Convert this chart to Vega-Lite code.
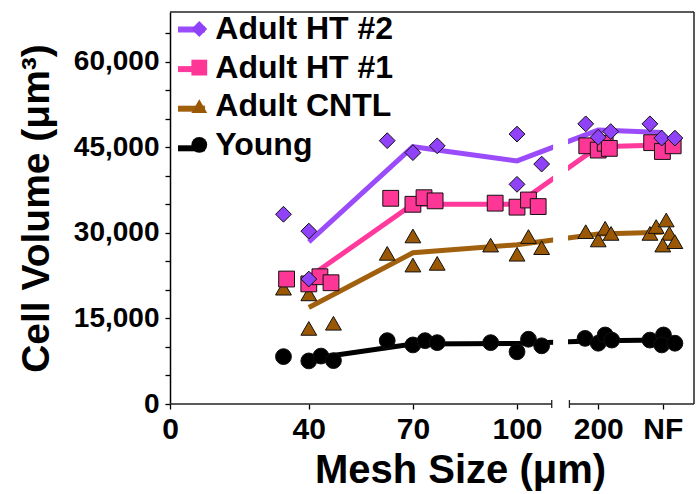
{
  "$schema": "https://vega.github.io/schema/vega-lite/v6.json",
  "width": 524,
  "height": 392,
  "autosize": {"type": "none"},
  "padding": {"left": 170, "top": 12, "right": 5, "bottom": 90},
  "background": "white",
  "config": {
    "view": {"stroke": null},
    "font": "Liberation Sans",
    "axis": {
      "labelFont": "Liberation Sans",
      "labelFontWeight": "bold",
      "labelColor": "black",
      "titleFont": "Liberation Sans",
      "titleFontWeight": "bold",
      "titleColor": "black",
      "tickColor": "black",
      "tickWidth": 1.3,
      "tickSize": 5,
      "domainColor": "black",
      "domainWidth": 1.5,
      "grid": false
    },
    "legend": {
      "labelFont": "Liberation Sans",
      "labelFontWeight": "bold",
      "labelColor": "black",
      "labelLimit": 400
    }
  },
  "datasets": {
    "means": [
      {"group": "Young", "mesh": 40, "volume": 7900},
      {"group": "Young", "mesh": 70, "volume": 10500},
      {"group": "Young", "mesh": 100, "volume": 10600},
      {"group": "Young", "mesh": 123.4, "volume": 11100},
      {"group": "Young", "mesh": 142, "volume": 11200},
      {"group": "Adult CNTL", "mesh": 40, "volume": 16900},
      {"group": "Adult CNTL", "mesh": 70, "volume": 26500},
      {"group": "Adult CNTL", "mesh": 100, "volume": 27900},
      {"group": "Adult CNTL", "mesh": 123.4, "volume": 29800},
      {"group": "Adult CNTL", "mesh": 142, "volume": 30100},
      {"group": "Adult HT #1", "mesh": 40, "volume": 22200},
      {"group": "Adult HT #1", "mesh": 70, "volume": 35000},
      {"group": "Adult HT #1", "mesh": 100, "volume": 35000},
      {"group": "Adult HT #1", "mesh": 123.4, "volume": 45100},
      {"group": "Adult HT #1", "mesh": 142, "volume": 45400},
      {"group": "Adult HT #2", "mesh": 40, "volume": 28400},
      {"group": "Adult HT #2", "mesh": 70, "volume": 45100},
      {"group": "Adult HT #2", "mesh": 100, "volume": 42600},
      {"group": "Adult HT #2", "mesh": 123.4, "volume": 48000},
      {"group": "Adult HT #2", "mesh": 142, "volume": 47600}
    ],
    "points": [
      {"series": "Young", "mesh": 32.7, "volume": 8300},
      {"series": "Young", "mesh": 40, "volume": 7550},
      {"series": "Young", "mesh": 43.5, "volume": 8400},
      {"series": "Young", "mesh": 47.1, "volume": 7600},
      {"series": "Young", "mesh": 62.6, "volume": 11100},
      {"series": "Young", "mesh": 70, "volume": 10350},
      {"series": "Young", "mesh": 73.5, "volume": 11100},
      {"series": "Young", "mesh": 77, "volume": 10750},
      {"series": "Young", "mesh": 92.4, "volume": 10750},
      {"series": "Young", "mesh": 100, "volume": 9150},
      {"series": "Young", "mesh": 103.3, "volume": 11350},
      {"series": "Young", "mesh": 107.1, "volume": 10200},
      {"series": "Young", "mesh": 119.6, "volume": 11500},
      {"series": "Young", "mesh": 123.4, "volume": 10650},
      {"series": "Young", "mesh": 125.4, "volume": 12100},
      {"series": "Young", "mesh": 127.3, "volume": 11200},
      {"series": "Young", "mesh": 138.3, "volume": 11200},
      {"series": "Young", "mesh": 142.2, "volume": 12100},
      {"series": "Young", "mesh": 141.7, "volume": 10350},
      {"series": "Young", "mesh": 145.5, "volume": 10650},
      {"series": "Adult CNTL", "mesh": 32.7, "volume": 20300},
      {"series": "Adult CNTL", "mesh": 40, "volume": 19300},
      {"series": "Adult CNTL", "mesh": 40, "volume": 13250},
      {"series": "Adult CNTL", "mesh": 47.1, "volume": 14150},
      {"series": "Adult CNTL", "mesh": 62.6, "volume": 26400},
      {"series": "Adult CNTL", "mesh": 70, "volume": 29450},
      {"series": "Adult CNTL", "mesh": 70, "volume": 24350},
      {"series": "Adult CNTL", "mesh": 77, "volume": 24650},
      {"series": "Adult CNTL", "mesh": 92.4, "volume": 27850},
      {"series": "Adult CNTL", "mesh": 100, "volume": 26250},
      {"series": "Adult CNTL", "mesh": 103.3, "volume": 29350},
      {"series": "Adult CNTL", "mesh": 107.1, "volume": 27400},
      {"series": "Adult CNTL", "mesh": 119.8, "volume": 30200},
      {"series": "Adult CNTL", "mesh": 123.4, "volume": 28750},
      {"series": "Adult CNTL", "mesh": 125.4, "volume": 30800},
      {"series": "Adult CNTL", "mesh": 127.1, "volume": 29900},
      {"series": "Adult CNTL", "mesh": 138.3, "volume": 29900},
      {"series": "Adult CNTL", "mesh": 140.1, "volume": 31100},
      {"series": "Adult CNTL", "mesh": 143, "volume": 32250},
      {"series": "Adult CNTL", "mesh": 143.9, "volume": 29900},
      {"series": "Adult CNTL", "mesh": 142, "volume": 27850},
      {"series": "Adult CNTL", "mesh": 145.5, "volume": 28450},
      {"series": "Adult HT #1", "mesh": 33.6, "volume": 21900},
      {"series": "Adult HT #1", "mesh": 40, "volume": 21050},
      {"series": "Adult HT #1", "mesh": 43.2, "volume": 22300},
      {"series": "Adult HT #1", "mesh": 46.4, "volume": 21250},
      {"series": "Adult HT #1", "mesh": 63.6, "volume": 36050},
      {"series": "Adult HT #1", "mesh": 70, "volume": 35000},
      {"series": "Adult HT #1", "mesh": 73.2, "volume": 36150},
      {"series": "Adult HT #1", "mesh": 76.4, "volume": 35600},
      {"series": "Adult HT #1", "mesh": 93.7, "volume": 35200},
      {"series": "Adult HT #1", "mesh": 100, "volume": 34500},
      {"series": "Adult HT #1", "mesh": 103.3, "volume": 35750},
      {"series": "Adult HT #1", "mesh": 106.1, "volume": 34600},
      {"series": "Adult HT #1", "mesh": 120.1, "volume": 45250},
      {"series": "Adult HT #1", "mesh": 123.4, "volume": 44500},
      {"series": "Adult HT #1", "mesh": 125.4, "volume": 45700},
      {"series": "Adult HT #1", "mesh": 126.6, "volume": 44800},
      {"series": "Adult HT #1", "mesh": 138.8, "volume": 45800},
      {"series": "Adult HT #1", "mesh": 141.9, "volume": 44250},
      {"series": "Adult HT #1", "mesh": 145, "volume": 45250},
      {"series": "Adult HT #2", "mesh": 32.7, "volume": 33250},
      {"series": "Adult HT #2", "mesh": 40, "volume": 30300},
      {"series": "Adult HT #2", "mesh": 40, "volume": 21900},
      {"series": "Adult HT #2", "mesh": 62.6, "volume": 46150},
      {"series": "Adult HT #2", "mesh": 70, "volume": 44050},
      {"series": "Adult HT #2", "mesh": 77, "volume": 45250},
      {"series": "Adult HT #2", "mesh": 100, "volume": 47300},
      {"series": "Adult HT #2", "mesh": 100, "volume": 38500},
      {"series": "Adult HT #2", "mesh": 107.1, "volume": 42050},
      {"series": "Adult HT #2", "mesh": 119.8, "volume": 49100},
      {"series": "Adult HT #2", "mesh": 123.4, "volume": 46750},
      {"series": "Adult HT #2", "mesh": 127, "volume": 47750},
      {"series": "Adult HT #2", "mesh": 138.3, "volume": 49100},
      {"series": "Adult HT #2", "mesh": 141.7, "volume": 46600},
      {"series": "Adult HT #2", "mesh": 145.5, "volume": 46600}
    ]
  },
  "layer": [
    {
      "data": {"name": "means"},
      "mark": {"type": "line", "strokeWidth": 5, "clip": true},
      "encoding": {
        "x": {
          "field": "mesh", "type": "quantitative",
          "scale": {"domain": [0, 151], "nice": false},
          "axis": {
            "values": [0, 40, 70, 100, 123.4, 142],
            "labelExpr": "datum.value === 123.4 ? '200' : datum.value === 142 ? 'NF' : format(datum.value, 'd')",
            "domain": false, "labelFontSize": 30, "labelPadding": 5, "labelFlush": false,
            "title": "Mesh Size (μm)", "titleFontSize": 40, "titlePadding": 6, "titleX": 290
          }
        },
        "y": {
          "field": "volume", "type": "quantitative",
          "scale": {"domain": [0, 68700], "nice": false},
          "axis": {
            "values": [0, 5000, 10000, 15000, 20000, 25000, 30000, 35000, 40000, 45000, 50000, 55000, 60000, 65000],
            "labelExpr": "datum.value % 15000 === 0 ? format(datum.value, ',') : ''",
            "labelFontSize": 28, "labelPadding": 6, "labelFlush": false, "labelOverlap": false,
            "title": "Cell Volume (μm³)", "titleFontSize": 39, "titlePadding": 17
          }
        },
        "stroke": {
          "field": "group", "type": "nominal",
          "sort": ["Adult HT #2", "Adult HT #1", "Adult CNTL", "Young"],
          "scale": {"range": ["#9a4cfb", "#ff3a9c", "#a0600e", "#000000"]},
          "legend": {
            "title": null, "orient": "none", "legendX": 5, "legendY": 1, "padding": 0,
            "symbolType": "stroke", "symbolSize": 729, "symbolStrokeWidth": 6,
            "labelFontSize": 32, "labelExpr": "''", "rowPadding": 6.6, "labelOffset": 10
          }
        }
      }
    },
    {
      "data": {"values": [{}]},
      "mark": {"type": "rect", "color": "white"},
      "encoding": {
        "x": {
          "datum": 110.4, "type": "quantitative",
          "scale": {"domain": [0, 151], "nice": false},
          "axis": {
            "values": [0, 40, 70, 100, 123.4, 142],
            "labelExpr": "datum.value === 123.4 ? '200' : datum.value === 142 ? 'NF' : format(datum.value, 'd')",
            "domain": false, "labelFontSize": 30, "labelPadding": 5, "labelFlush": false,
            "title": "Mesh Size (μm)", "titleFontSize": 40, "titlePadding": 6, "titleX": 290
          }
        },
        "x2": {"datum": 114.7},
        "y": {
          "datum": 300, "type": "quantitative",
          "scale": {"domain": [0, 68700], "nice": false},
          "axis": {
            "values": [0, 5000, 10000, 15000, 20000, 25000, 30000, 35000, 40000, 45000, 50000, 55000, 60000, 65000],
            "labelExpr": "datum.value % 15000 === 0 ? format(datum.value, ',') : ''",
            "labelFontSize": 28, "labelPadding": 6, "labelFlush": false, "labelOverlap": false,
            "title": "Cell Volume (μm³)", "titleFontSize": 39, "titlePadding": 17
          }
        },
        "y2": {"datum": 68400}
      }
    },
    {
      "data": {"name": "points"},
      "mark": {"type": "point", "filled": true, "opacity": 1, "stroke": "#111111", "strokeWidth": 1, "size": 250},
      "encoding": {
        "x": {
          "field": "mesh", "type": "quantitative",
          "scale": {"domain": [0, 151], "nice": false},
          "axis": {
            "values": [0, 40, 70, 100, 123.4, 142],
            "labelExpr": "datum.value === 123.4 ? '200' : datum.value === 142 ? 'NF' : format(datum.value, 'd')",
            "domain": false, "labelFontSize": 30, "labelPadding": 5, "labelFlush": false,
            "title": "Mesh Size (μm)", "titleFontSize": 40, "titlePadding": 6, "titleX": 290
          }
        },
        "y": {
          "field": "volume", "type": "quantitative",
          "scale": {"domain": [0, 68700], "nice": false},
          "axis": {
            "values": [0, 5000, 10000, 15000, 20000, 25000, 30000, 35000, 40000, 45000, 50000, 55000, 60000, 65000],
            "labelExpr": "datum.value % 15000 === 0 ? format(datum.value, ',') : ''",
            "labelFontSize": 28, "labelPadding": 6, "labelFlush": false, "labelOverlap": false,
            "title": "Cell Volume (μm³)", "titleFontSize": 39, "titlePadding": 17
          }
        },
        "fill": {
          "field": "series", "type": "nominal",
          "scale": {
            "domain": ["Adult HT #2", "Adult HT #1", "Adult CNTL", "Young"],
            "range": ["#8f42f7", "#fe3797", "#9a5804", "#000000"]
          },
          "legend": {
            "title": null, "orient": "none", "legendX": 13.3, "legendY": 1, "padding": 0,
            "symbolSize": 250, "symbolStrokeColor": "#111111", "symbolStrokeWidth": 1,
            "labelFontSize": 32, "rowPadding": 6.6, "labelOffset": 0
          }
        },
        "shape": {
          "field": "series", "type": "nominal",
          "scale": {
            "domain": ["Adult HT #2", "Adult HT #1", "Adult CNTL", "Young"],
            "range": ["diamond", "square", "triangle-up", "circle"]
          },
          "legend": {
            "title": null, "orient": "none", "legendX": 13.3, "legendY": 1, "padding": 0,
            "symbolSize": 250, "symbolStrokeColor": "#111111", "symbolStrokeWidth": 1,
            "labelFontSize": 32, "rowPadding": 6.6, "labelOffset": 0
          }
        }
      }
    },
    {
      "data": {"values": [{}]},
      "mark": {"type": "rule", "color": "#222222", "strokeWidth": 1.5},
      "encoding": {
        "y": {
          "datum": 68700, "type": "quantitative",
          "scale": {"domain": [0, 68700], "nice": false},
          "axis": {
            "values": [0, 5000, 10000, 15000, 20000, 25000, 30000, 35000, 40000, 45000, 50000, 55000, 60000, 65000],
            "labelExpr": "datum.value % 15000 === 0 ? format(datum.value, ',') : ''",
            "labelFontSize": 28, "labelPadding": 6, "labelFlush": false, "labelOverlap": false,
            "title": "Cell Volume (μm³)", "titleFontSize": 39, "titlePadding": 17
          }
        }
      }
    },
    {
      "data": {"values": [{}]},
      "mark": {"type": "rule", "color": "#222222", "strokeWidth": 1.5},
      "encoding": {
        "x": {
          "datum": 151, "type": "quantitative",
          "scale": {"domain": [0, 151], "nice": false},
          "axis": {
            "values": [0, 40, 70, 100, 123.4, 142],
            "labelExpr": "datum.value === 123.4 ? '200' : datum.value === 142 ? 'NF' : format(datum.value, 'd')",
            "domain": false, "labelFontSize": 30, "labelPadding": 5, "labelFlush": false,
            "title": "Mesh Size (μm)", "titleFontSize": 40, "titlePadding": 6, "titleX": 290
          }
        }
      }
    },
    {
      "data": {"values": [{"from": 0, "to": 110}, {"from": 115.1, "to": 151}]},
      "mark": {"type": "rule", "color": "#222222", "strokeWidth": 1.5},
      "encoding": {
        "x": {
          "field": "from", "type": "quantitative",
          "scale": {"domain": [0, 151], "nice": false},
          "axis": {
            "values": [0, 40, 70, 100, 123.4, 142],
            "labelExpr": "datum.value === 123.4 ? '200' : datum.value === 142 ? 'NF' : format(datum.value, 'd')",
            "domain": false, "labelFontSize": 30, "labelPadding": 5, "labelFlush": false,
            "title": "Mesh Size (μm)", "titleFontSize": 40, "titlePadding": 6, "titleX": 290
          }
        },
        "x2": {"field": "to"},
        "y": {
          "datum": 0, "type": "quantitative",
          "scale": {"domain": [0, 68700], "nice": false},
          "axis": {
            "values": [0, 5000, 10000, 15000, 20000, 25000, 30000, 35000, 40000, 45000, 50000, 55000, 60000, 65000],
            "labelExpr": "datum.value % 15000 === 0 ? format(datum.value, ',') : ''",
            "labelFontSize": 28, "labelPadding": 6, "labelFlush": false, "labelOverlap": false,
            "title": "Cell Volume (μm³)", "titleFontSize": 39, "titlePadding": 17
          }
        }
      }
    },
    {
      "data": {"values": [{"at": 110}, {"at": 115.1}]},
      "mark": {"type": "rule", "color": "#222222", "strokeWidth": 1.3},
      "encoding": {
        "x": {
          "field": "at", "type": "quantitative",
          "scale": {"domain": [0, 151], "nice": false},
          "axis": {
            "values": [0, 40, 70, 100, 123.4, 142],
            "labelExpr": "datum.value === 123.4 ? '200' : datum.value === 142 ? 'NF' : format(datum.value, 'd')",
            "domain": false, "labelFontSize": 30, "labelPadding": 5, "labelFlush": false,
            "title": "Mesh Size (μm)", "titleFontSize": 40, "titlePadding": 6, "titleX": 290
          }
        },
        "y": {
          "datum": -700, "type": "quantitative",
          "scale": {"domain": [0, 68700], "nice": false},
          "axis": {
            "values": [0, 5000, 10000, 15000, 20000, 25000, 30000, 35000, 40000, 45000, 50000, 55000, 60000, 65000],
            "labelExpr": "datum.value % 15000 === 0 ? format(datum.value, ',') : ''",
            "labelFontSize": 28, "labelPadding": 6, "labelFlush": false, "labelOverlap": false,
            "title": "Cell Volume (μm³)", "titleFontSize": 39, "titlePadding": 17
          }
        },
        "y2": {"datum": 700}
      }
    }
  ]
}
